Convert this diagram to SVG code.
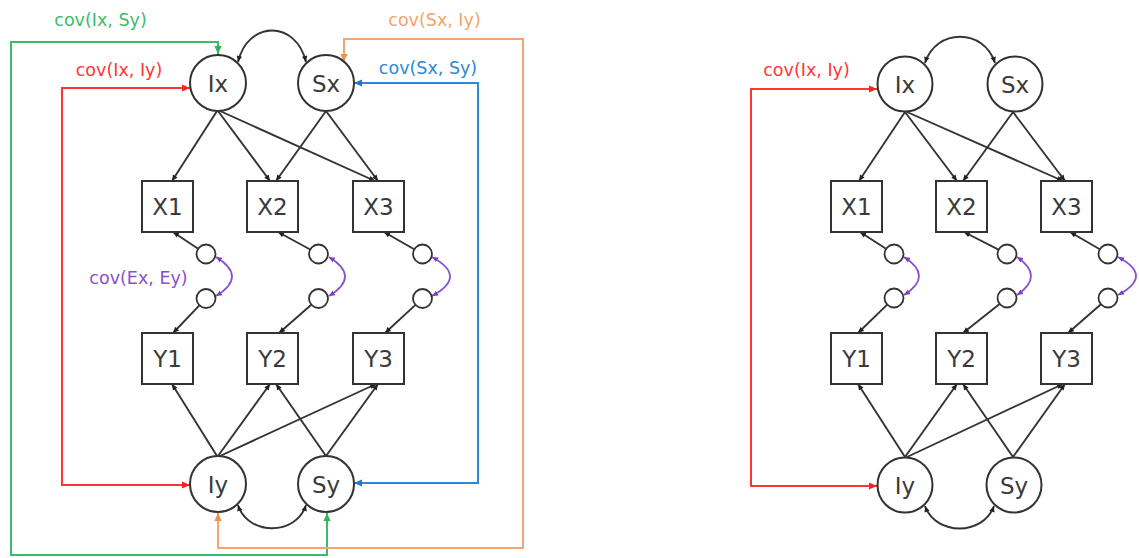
<svg xmlns="http://www.w3.org/2000/svg" width="1139" height="558" viewBox="0 0 1139 558">
<style>
  .bg{fill:#ffffff}
  .node circle,.node rect{fill:#ffffff;stroke:#333333;stroke-width:2}
  .err circle{fill:#ffffff;stroke:#333333;stroke-width:1.8}
  .nt{font-family:"DejaVu Sans","Liberation Sans",sans-serif;font-size:23px;fill:#3a3a3a;text-anchor:middle}
  .lbl{font-family:"DejaVu Sans","Liberation Sans",sans-serif;font-size:17.5px;text-anchor:middle}
  .k{fill:none;stroke:#333333;stroke-width:1.9;marker-end:url(#ak)}
  .kk{fill:none;stroke:#333333;stroke-width:1.9;marker-start:url(#ak);marker-end:url(#ak)}
  .g{fill:none;stroke:#3dbb6b;stroke-width:2;marker-start:url(#ag);marker-end:url(#ag)}
  .o{fill:none;stroke:#f4a46e;stroke-width:2;marker-start:url(#ao);marker-end:url(#ao)}
  .r{fill:none;stroke:#ff3535;stroke-width:2;marker-start:url(#ar);marker-end:url(#ar)}
  .b{fill:none;stroke:#2f88d4;stroke-width:2;marker-start:url(#ab);marker-end:url(#ab)}
  .p{fill:none;stroke:#8a4fcf;stroke-width:1.8;marker-start:url(#ap);marker-end:url(#ap)}
</style>
<defs>
  <marker id="ak" viewBox="0 0 10 10" refX="10" refY="5" markerWidth="7" markerHeight="6" markerUnits="userSpaceOnUse" orient="auto-start-reverse"><path d="M0,0.5 L10,5 L0,9.5 z" fill="#222222"/></marker>
  <marker id="ag" viewBox="0 0 10 10" refX="10" refY="5" markerWidth="8" markerHeight="8" markerUnits="userSpaceOnUse" orient="auto-start-reverse"><path d="M0,0.5 L10,5 L0,9.5 z" fill="#2fb55e"/></marker>
  <marker id="ao" viewBox="0 0 10 10" refX="10" refY="5" markerWidth="8" markerHeight="8" markerUnits="userSpaceOnUse" orient="auto-start-reverse"><path d="M0,0.5 L10,5 L0,9.5 z" fill="#f0904f"/></marker>
  <marker id="ar" viewBox="0 0 10 10" refX="10" refY="5" markerWidth="8" markerHeight="8" markerUnits="userSpaceOnUse" orient="auto-start-reverse"><path d="M0,0.5 L10,5 L0,9.5 z" fill="#ff2020"/></marker>
  <marker id="ab" viewBox="0 0 10 10" refX="10" refY="5" markerWidth="8" markerHeight="8" markerUnits="userSpaceOnUse" orient="auto-start-reverse"><path d="M0,0.5 L10,5 L0,9.5 z" fill="#1f78c8"/></marker>
  <marker id="ap" viewBox="0 0 10 10" refX="10" refY="5" markerWidth="6" markerHeight="6" markerUnits="userSpaceOnUse" orient="auto-start-reverse"><path d="M0,0.5 L10,5 L0,9.5 z" fill="#7a3fc4"/></marker>
</defs>
<rect class="bg" x="0" y="0" width="1139" height="558"/>

<g id="connectors">
  <!-- left panel: loadings -->
  <path class="k" d="M217,111 L172,181"/>
  <path class="k" d="M218,111 L270,181"/>
  <path class="k" d="M220,111 L375,181"/>
  <path class="k" d="M326,111 L276,181"/>
  <path class="k" d="M326,111 L378,181"/>
  <path class="k" d="M217,456 L172,384"/>
  <path class="k" d="M218,456 L270,384"/>
  <path class="k" d="M220,456 L376,384"/>
  <path class="k" d="M326,456 L276,384"/>
  <path class="k" d="M326,456 L378,384"/>
  <!-- left panel: errors -->
  <path class="k" d="M198.1,248.7 L173,232"/>
  <path class="k" d="M199.4,305.3 L173,333"/>
  <path class="k" d="M310.2,249.5 L278,232"/>
  <path class="k" d="M311.3,304.8 L279,333"/>
  <path class="k" d="M414.2,249.3 L384,232"/>
  <path class="k" d="M415.5,304.9 L385,333"/>
  <!-- left panel: latent covariances -->
  <path class="kk" d="M238,62 C248,20 296,20 306,62"/>
  <path class="kk" d="M238,505 C248,536 296,536 306,505"/>
  <!-- left panel: error covariances -->
  <path class="p" d="M216,257 Q248,276.5 216,296"/>
  <path class="p" d="M329,257 Q361,276.5 329,296"/>
  <path class="p" d="M432,257 Q468,276.5 432,296"/>
  <!-- left panel: cross covariances -->
  <path class="g" d="M218,54 V42 H11 V555 H327 V513"/>
  <path class="o" d="M344,62 V39 H523 V548 H218 V513"/>
  <path class="r" d="M190,88 H62 V485 H190"/>
  <path class="b" d="M354,83 H478 V483 H354"/>

  <!-- right panel: loadings -->
  <path class="k" d="M905,112 L859,181"/>
  <path class="k" d="M905,112 L957,181"/>
  <path class="k" d="M907,112 L1063,181"/>
  <path class="k" d="M1013,112 L963,181"/>
  <path class="k" d="M1013,112 L1065,181"/>
  <path class="k" d="M905,457 L858,384"/>
  <path class="k" d="M905,457 L957,384"/>
  <path class="k" d="M907,457 L1063,384"/>
  <path class="k" d="M1013,457 L963,384"/>
  <path class="k" d="M1013,457 L1065,384"/>
  <!-- right panel: errors -->
  <path class="k" d="M886,248.8 L860,232"/>
  <path class="k" d="M887.2,304.6 L858,333"/>
  <path class="k" d="M998.5,249.7 L964,232"/>
  <path class="k" d="M999.6,303.9 L963,333"/>
  <path class="k" d="M1099.8,249.2 L1070,232"/>
  <path class="k" d="M1100.9,304.3 L1068,333"/>
  <!-- right panel: latent covariances -->
  <path class="kk" d="M925,63 C936,28 984,28 995,63"/>
  <path class="kk" d="M925,506 C936,536 983,536 994,506"/>
  <!-- right panel: error covariances -->
  <path class="p" d="M904,257 Q934,276 904,295"/>
  <path class="p" d="M1017,257 Q1045,276 1017,295"/>
  <path class="p" d="M1118,257 Q1154,276 1118,295"/>
  <!-- right panel: cross covariance -->
  <path class="r" d="M877,89 H751 V486 H877"/>
</g>

<g id="labels">
  <text class="lbl" x="100.5" y="26" fill="#3dbb6b">cov(Ix, Sy)</text>
  <text class="lbl" x="119" y="76" fill="#ff3535">cov(Ix, Iy)</text>
  <text class="lbl" x="434.5" y="26" fill="#f4a46e">cov(Sx, Iy)</text>
  <text class="lbl" x="428" y="74" fill="#2f88d4">cov(Sx, Sy)</text>
  <text class="lbl" x="138.5" y="284" fill="#8a4fcf">cov(Ex, Ey)</text>
  <text class="lbl" x="806.5" y="76" fill="#ff3535">cov(Ix, Iy)</text>
</g>

<!-- left panel nodes -->
<g id="L_Ix" class="node"><circle cx="218" cy="83" r="28"/><text class="nt" x="218" y="91.5">Ix</text></g>
<g id="L_Sx" class="node"><circle cx="326" cy="83" r="28"/><text class="nt" x="326" y="91.5">Sx</text></g>
<g id="L_Iy" class="node"><circle cx="218" cy="484" r="28"/><text class="nt" x="218" y="492.5">Iy</text></g>
<g id="L_Sy" class="node"><circle cx="326" cy="484" r="28"/><text class="nt" x="326" y="492.5">Sy</text></g>
<g id="L_X1" class="node"><rect x="142" y="181" width="51" height="51"/><text class="nt" x="167.5" y="215">X1</text></g>
<g id="L_X2" class="node"><rect x="247" y="181" width="51" height="51"/><text class="nt" x="272.5" y="215">X2</text></g>
<g id="L_X3" class="node"><rect x="353" y="181" width="51" height="51"/><text class="nt" x="378.5" y="215">X3</text></g>
<g id="L_Y1" class="node"><rect x="142" y="333" width="51" height="51"/><text class="nt" x="167.5" y="367">Y1</text></g>
<g id="L_Y2" class="node"><rect x="247" y="333" width="51" height="51"/><text class="nt" x="272.5" y="367">Y2</text></g>
<g id="L_Y3" class="node"><rect x="353" y="333" width="51" height="51"/><text class="nt" x="378.5" y="367">Y3</text></g>
<g id="L_Ex1" class="err"><circle cx="206" cy="254" r="9.5"/></g>
<g id="L_Ey1" class="err"><circle cx="206" cy="298.5" r="9.5"/></g>
<g id="L_Ex2" class="err"><circle cx="318.5" cy="254" r="9.5"/></g>
<g id="L_Ey2" class="err"><circle cx="318.5" cy="298.5" r="9.5"/></g>
<g id="L_Ex3" class="err"><circle cx="422.5" cy="254" r="9.5"/></g>
<g id="L_Ey3" class="err"><circle cx="422.5" cy="298.5" r="9.5"/></g>

<!-- right panel nodes -->
<g id="R_Ix" class="node"><circle cx="905" cy="84" r="27.5"/><text class="nt" x="905" y="92.5">Ix</text></g>
<g id="R_Sx" class="node"><circle cx="1015" cy="84" r="27.5"/><text class="nt" x="1015" y="92.5">Sx</text></g>
<g id="R_Iy" class="node"><circle cx="905" cy="485" r="27.5"/><text class="nt" x="905" y="493.5">Iy</text></g>
<g id="R_Sy" class="node"><circle cx="1014" cy="485" r="27.5"/><text class="nt" x="1014" y="493.5">Sy</text></g>
<g id="R_X1" class="node"><rect x="831" y="181" width="51" height="51"/><text class="nt" x="856.5" y="215">X1</text></g>
<g id="R_X2" class="node"><rect x="936" y="181" width="51" height="51"/><text class="nt" x="961.5" y="215">X2</text></g>
<g id="R_X3" class="node"><rect x="1041" y="181" width="51" height="51"/><text class="nt" x="1066.5" y="215">X3</text></g>
<g id="R_Y1" class="node"><rect x="831" y="333" width="51" height="51"/><text class="nt" x="856.5" y="367">Y1</text></g>
<g id="R_Y2" class="node"><rect x="936" y="333" width="51" height="51"/><text class="nt" x="961.5" y="367">Y2</text></g>
<g id="R_Y3" class="node"><rect x="1041" y="333" width="51" height="51"/><text class="nt" x="1066.5" y="367">Y3</text></g>
<g id="R_Ex1" class="err"><circle cx="894" cy="254" r="9.5"/></g>
<g id="R_Ey1" class="err"><circle cx="894" cy="298" r="9.5"/></g>
<g id="R_Ex2" class="err"><circle cx="1007" cy="254" r="9.5"/></g>
<g id="R_Ey2" class="err"><circle cx="1007" cy="298" r="9.5"/></g>
<g id="R_Ex3" class="err"><circle cx="1108" cy="254" r="9.5"/></g>
<g id="R_Ey3" class="err"><circle cx="1108" cy="298" r="9.5"/></g>
</svg>
